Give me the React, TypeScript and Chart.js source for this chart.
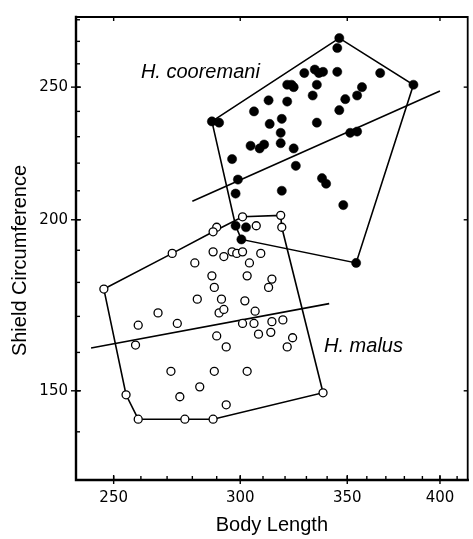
import React, { useEffect, useRef } from "react";
import { Chart, registerables } from "chart.js";

Chart.register(...registerables);

// Axis ticks
const xLabelTicks = [250, 300, 350, 400];
const yLabelTicks = [150, 200, 250];
const xMinorTicks = [250, 260, 270, 280, 290, 300, 310, 320, 330, 340, 350, 360, 370, 380, 390, 400, 410];
const yMinorTicks = [140, 150, 160, 170, 180, 190, 200, 210, 220, 230, 240, 250, 260, 270, 280];

// H. cooremani (filled circles)
const cooremaniX = [346, 345, 329, 334, 336, 338, 345, 367, 385, 321, 323, 324, 335, 357.5, 355, 349, 333, 312.5, 321, 306, 346, 288, 291, 313, 318.5, 335, 318, 351.5, 355, 304.5, 308.5, 310.5, 318, 324, 296.5, 325, 299, 337.5, 339.5, 298, 318.5, 348, 298, 302.5, 300.5, 354.5];
const cooremaniY = [271.5, 267, 256, 257.5, 256, 256.5, 256.5, 256, 251, 251, 251, 250, 251, 250, 246.5, 245, 246.5, 244.5, 244, 240, 240.5, 236, 235.5, 235, 237, 235.5, 231.5, 231.5, 232, 226.5, 225.5, 227, 227.5, 225.5, 221.5, 219, 214, 214.5, 212.5, 209, 210, 205, 198, 197.5, 193.5, 186];

// H. malus (open circles)
const malusX = [301, 318, 318.5, 307, 290, 288.5, 272, 246.5, 288.5, 293, 296.5, 298.5, 301, 309, 281, 304, 288, 303, 314, 289, 312.5, 282, 292, 302, 266.5, 291, 293, 306.5, 259, 274, 301, 306, 314, 319, 290, 308, 313.5, 258, 294, 323.5, 321, 271.5, 289, 303, 338, 254.5, 283, 275, 294, 259, 277, 288.5];
const malusY = [201, 201.5, 197.5, 198, 197.5, 196, 189, 178, 189.5, 188, 189.5, 189, 189.5, 189, 186, 186, 182, 182, 181, 178.5, 178.5, 175, 175, 174.5, 171, 171, 172, 171.5, 167.5, 168, 168, 168, 168.5, 169, 164.5, 165, 165.5, 162, 161.5, 164, 161.5, 155, 155, 155, 149.5, 149, 151, 148.5, 146.5, 143, 143, 143];

// Convex hulls
const cooremaniHullX = [288, 346, 385, 354.5, 300.5, 298, 288];
const cooremaniHullY = [236, 271.5, 251, 186, 193.5, 198, 236];
const malusHullX = [246.5, 272, 288.5, 301, 318, 318.5, 338, 288.5, 277, 259, 254.5, 246.5];
const malusHullY = [178, 189, 196, 201, 201.5, 197.5, 149.5, 143, 143, 143, 149, 178];

// Allometric fit lines
const cooremaniFitX = [280, 400];
const cooremaniFitY = [206.3, 248.4];
const malusFitX = [242, 341];
const malusFitY = [161.2, 173.7];

// Species labels
const speciesNames = ["H. cooremani", "H. malus"];
const speciesLabelX = [260, 338.5];
const speciesLabelY = [256.3, 161.6];

const yTitle = "Shield Circumference";
const xTitle = "Body Length";

const zip = (xs: number[], ys: number[]) => xs.map((x, i) => ({ x, y: ys[i] }));

const framePlugin = {
  id: "frameTicks",
  afterDraw(chart: any) {
    const { ctx, chartArea } = chart;
    const xs = chart.scales.x;
    const ys = chart.scales.y;
    const { left, right, top, bottom } = chartArea;
    ctx.save();
    ctx.strokeStyle = "#000";
    ctx.lineCap = "square";
    // frame
    ctx.lineWidth = 2.4;
    ctx.beginPath();
    ctx.moveTo(left, top);
    ctx.lineTo(left, bottom);
    ctx.lineTo(right, bottom);
    ctx.stroke();
    ctx.lineWidth = 1.8;
    ctx.beginPath();
    ctx.moveTo(left, top);
    ctx.lineTo(right, top);
    ctx.lineTo(right, bottom);
    ctx.stroke();
    ctx.lineCap = "butt";
    ctx.lineWidth = 1.4;
    xMinorTicks.forEach((v) => {
      const px = xs.getPixelForValue(v);
      ctx.beginPath();
      ctx.moveTo(px, bottom);
      ctx.lineTo(px, bottom - 4);
      ctx.stroke();
    });
    xLabelTicks.forEach((v) => {
      const px = xs.getPixelForValue(v);
      ctx.beginPath();
      ctx.moveTo(px, bottom + 4);
      ctx.lineTo(px, bottom - 5);
      ctx.stroke();
      ctx.beginPath();
      ctx.moveTo(px, top);
      ctx.lineTo(px, top + 4);
      ctx.stroke();
    });
    yMinorTicks.forEach((v) => {
      const py = ys.getPixelForValue(v);
      ctx.beginPath();
      ctx.moveTo(left, py);
      ctx.lineTo(left + 4, py);
      ctx.stroke();
    });
    yLabelTicks.forEach((v) => {
      const py = ys.getPixelForValue(v);
      ctx.beginPath();
      ctx.moveTo(left - 5, py);
      ctx.lineTo(left + 5, py);
      ctx.stroke();
      ctx.beginPath();
      ctx.moveTo(right, py);
      ctx.lineTo(right - 4, py);
      ctx.stroke();
    });
    ctx.fillStyle = "#000";
    // species labels
    ctx.font = "italic 20px 'Liberation Sans', Arial, sans-serif";
    ctx.textAlign = "left";
    ctx.textBaseline = "middle";
    speciesNames.forEach((name, i) => {
      ctx.fillText(name, xs.getPixelForValue(speciesLabelX[i]), ys.getPixelForValue(speciesLabelY[i]));
    });
    // y axis title
    ctx.font = "20px 'Liberation Sans', Arial, sans-serif";
    ctx.textAlign = "center";
    ctx.translate(20, (top + bottom) / 2 + 12);
    ctx.rotate(-Math.PI / 2);
    ctx.fillText(yTitle, 0, 0);
    ctx.restore();
  },
};

export default function App() {
  const canvasRef = useRef<HTMLCanvasElement | null>(null);

  useEffect(() => {
    document.body.style.margin = "0";
    const canvas = canvasRef.current;
    if (!canvas) return;
    const lineDs = (label: string, data: any[], order: number) => ({
      type: "scatter" as const,
      label,
      data,
      showLine: true,
      borderColor: "#000",
      borderWidth: 1.6,
      pointRadius: 0,
      fill: false,
      tension: 0,
      order,
    });
    const tickFont = { family: "'DejaVu Sans', sans-serif", size: 15 };
    const chart = new Chart(canvas, {
      type: "scatter",
      data: {
        datasets: [
          {
            label: "H. cooremani",
            data: zip(cooremaniX, cooremaniY),
            pointRadius: 4.6,
            pointBackgroundColor: "#000",
            pointBorderColor: "#000",
            pointBorderWidth: 0.5,
            order: 0,
          },
          {
            label: "H. malus",
            data: zip(malusX, malusY),
            pointRadius: 4,
            pointBackgroundColor: "#fff",
            pointBorderColor: "#000",
            pointBorderWidth: 1.3,
            order: 1,
          },
          lineDs("cooremani hull", zip(cooremaniHullX, cooremaniHullY), 3),
          lineDs("malus hull", zip(malusHullX, malusHullY), 3),
          lineDs("cooremani fit", zip(cooremaniFitX, cooremaniFitY), 2),
          lineDs("malus fit", zip(malusFitX, malusFitY), 2),
        ] as any,
      },
      options: {
        animation: false,
        responsive: false,
        layout: { padding: { top: 12, right: 1, left: 0, bottom: 0 } },
        plugins: { legend: { display: false }, tooltip: { enabled: false } },
        scales: {
          x: {
            type: "logarithmic",
            min: 236.8,
            max: 416.3,
            afterBuildTicks: (scale: any) => {
              scale.ticks = xLabelTicks.map((v) => ({ value: v }));
            },
            afterFit: (scale: any) => {
              scale.height = 59;
            },
            grid: { display: false, drawTicks: false },
            border: { display: false },
            ticks: {
              color: "#000",
              padding: 9,
              maxRotation: 0,
              autoSkip: false,
              font: tickFont,
              callback: (v: any) => String(v),
            },
            title: {
              display: true,
              text: xTitle,
              color: "#000",
              font: { family: "'Liberation Sans', Arial, sans-serif", size: 20 },
              padding: { top: 0, bottom: 2 },
            },
          },
          y: {
            type: "logarithmic",
            min: 129.1,
            max: 281.3,
            afterBuildTicks: (scale: any) => {
              scale.ticks = yLabelTicks.map((v) => ({ value: v }));
            },
            afterFit: (scale: any) => {
              scale.width = 76;
            },
            grid: { display: false, drawTicks: false },
            border: { display: false },
            ticks: {
              color: "#000",
              padding: 8,
              autoSkip: false,
              font: tickFont,
              callback: (v: any) => String(v),
            },
          },
        },
      },
      plugins: [framePlugin],
    });
    return () => chart.destroy();
  }, []);

  return (
    <div style={{ width: 473, height: 539, background: "#fff" }}>
      <canvas ref={canvasRef} width={473} height={539} style={{ display: "block" }} />
    </div>
  );
}
